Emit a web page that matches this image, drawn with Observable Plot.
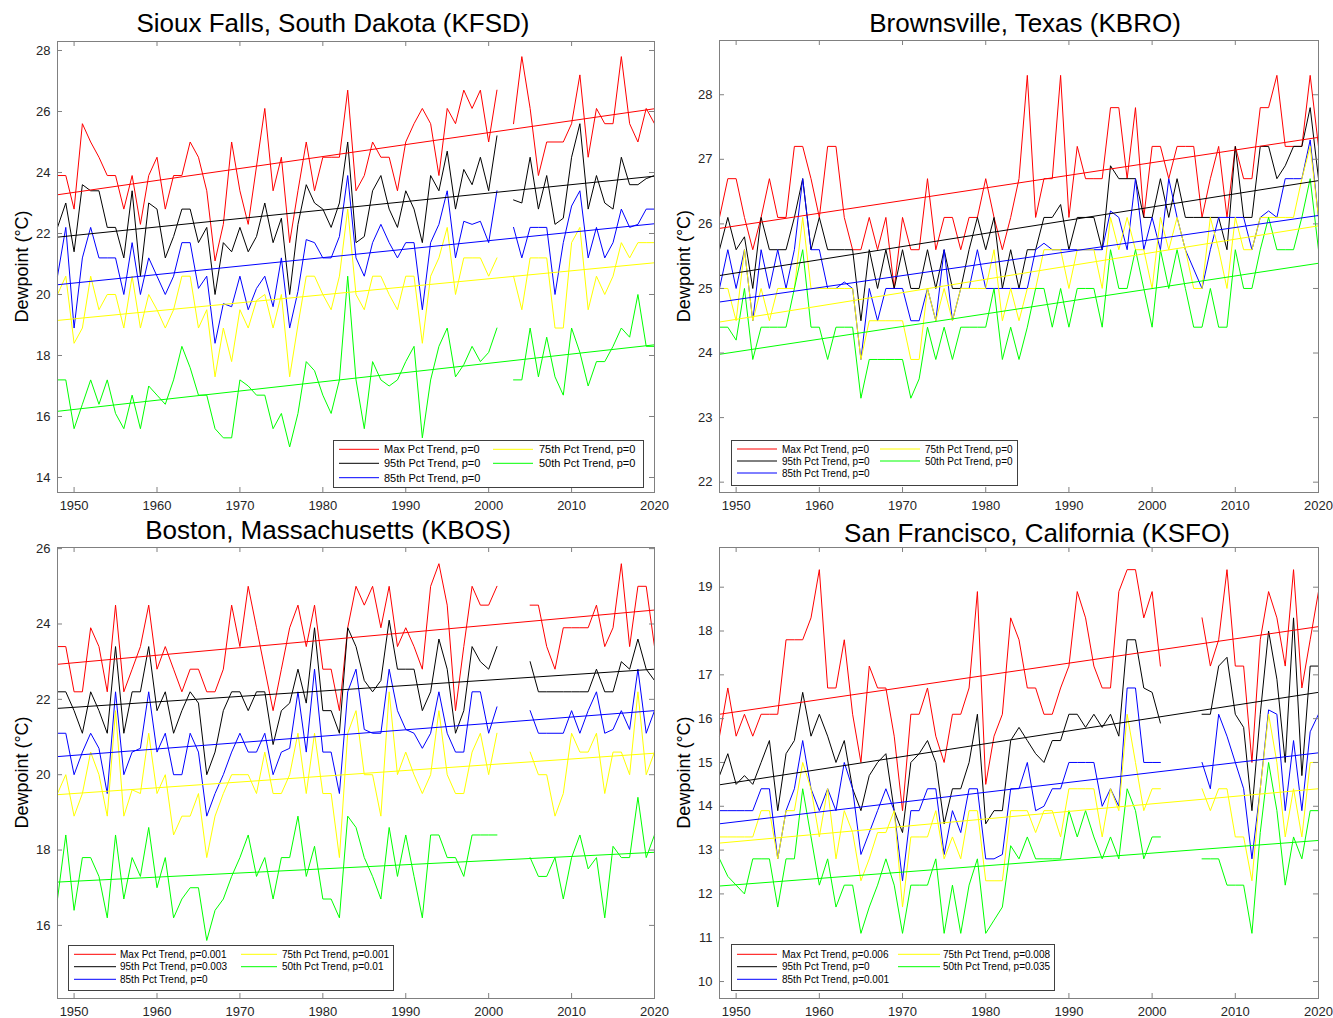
<!DOCTYPE html>
<html>
<head>
<meta charset="utf-8">
<script src="https://cdn.jsdelivr.net/npm/d3@7"></script>
<script src="https://cdn.jsdelivr.net/npm/@observablehq/plot@0.6"></script>
<style>
  html, body { margin: 0; padding: 0; background: #fff; }
  #root { position: relative; width: 1333px; height: 1018px; background: #fff; overflow: hidden;
          font-family: "Liberation Sans", Arial, Helvetica, sans-serif; }
  #root svg { position: absolute; }
</style>
</head>
<body>
<div id="root"></div>
<script>
// ---------- DATA ----------
const years = [1948,1949,1950,1951,1952,1953,1954,1955,1956,1957,1958,1959,1960,1961,1962,1963,1964,1965,1966,1967,
  1968,1969,1970,1971,1972,1973,1974,1975,1976,1977,1978,1979,1980,1981,1982,1983,1984,1985,1986,1987,
  1988,1989,1990,1991,1992,1993,1994,1995,1996,1997,1998,1999,2000,2001,2002,2003,2004,2005,2006,2007,
  2008,2009,2010,2011,2012,2013,2014,2015,2016,2017,2018,2019,2020];
const xTicks = [1950, 1960, 1970, 1980, 1990, 2000, 2010, 2020];
const seriesColors = ["#ff0000", "#000000", "#0000ff", "#ffff00", "#00ff00"];

// Sioux Falls (KFSD)
const kfsdMax = [23.9,23.9,22.8,25.6,25.0,24.5,23.9,23.9,22.8,23.9, 22.3,23.9,24.5,22.8,23.9,23.9,25.0,24.5,23.4,21.1,
  22.3,25.0,23.4,22.3,24.2,26.1,23.4,24.5,21.7,23.4, 25.0,23.4,24.5,24.5,24.5,26.7,23.4,23.9,25.0,24.5,
  24.5,23.4,25.0,25.6,26.1,25.6,23.9,26.1,25.6,26.7, 26.1,26.7,25.0,26.7,null,25.6,27.8,26.1,23.9,25.0,
  25.0,25.0,25.6,27.2,24.5,26.1,25.6,25.6,27.8,25.6, 25.0,26.1,25.6];
const kfsdP95 = [22.2,23.0,21.4,23.6,23.4,23.4,22.2,22.2,21.2,23.4, 20.6,23.0,22.8,21.2,21.9,22.8,22.8,21.7,22.2,20.0,
  21.7,21.4,22.2,21.4,21.9,23.0,21.7,22.5,20.0,22.3, 23.6,23.0,22.8,22.2,23.0,25.0,21.7,21.9,23.4,23.9,
  22.8,22.2,23.4,22.8,21.7,23.9,23.4,24.7,22.8,24.1, 23.6,24.5,23.4,25.2,null,23.1,23.0,24.5,22.8,23.9,
  22.3,22.5,24.5,25.6,22.8,23.9,23.0,22.8,24.5,23.6, 23.6,23.8,23.9];
const kfsdP85 = [20.6,22.2,18.9,21.2,22.2,21.2,21.2,21.2,20.0,21.7, 20.0,21.2,20.6,20.0,20.6,21.7,21.7,20.2,20.6,18.4,
  19.7,19.6,20.6,19.5,20.2,20.6,19.6,21.2,18.9,20.1, 21.8,21.7,21.2,21.2,21.9,23.9,21.2,20.6,21.7,22.3,
  21.7,21.2,21.7,21.7,19.5,21.7,22.3,23.4,21.2,22.4, 22.3,22.4,21.7,23.4,null,22.2,21.2,22.2,22.2,22.2,
  20.0,21.7,22.9,23.4,21.2,22.2,21.2,21.7,22.8,22.2, 22.3,22.8,22.8];
const kfsdP75 = [20.0,20.6,18.4,18.9,20.6,19.5,20.0,20.0,18.9,20.6, 18.9,20.0,19.5,18.9,19.5,20.6,20.6,18.9,19.5,17.3,
  18.9,17.8,19.5,18.9,19.8,20.0,18.9,20.0,17.3,19.0, 20.6,20.6,20.0,19.5,20.6,22.8,20.0,19.5,20.6,20.6,
  20.0,19.5,20.6,20.6,18.4,20.6,21.2,22.2,20.0,21.2, 21.2,21.2,20.6,21.2,null,20.6,19.5,21.2,21.2,21.2,
  18.9,18.9,21.7,22.2,19.5,20.6,20.0,20.6,21.7,21.2, 21.7,21.7,21.7];
const kfsdP50 = [17.2,17.2,15.6,16.4,17.2,16.4,17.2,16.1,15.6,16.7, 15.6,17.0,16.7,16.4,17.2,18.3,17.6,16.7,16.7,15.6,
  15.3,15.3,17.2,17.0,16.7,16.7,15.6,16.1,15.0,16.1, 17.8,17.5,16.7,16.1,17.2,20.6,17.2,15.6,17.8,17.2,
  17.0,17.2,17.8,18.3,15.3,17.2,18.3,18.9,17.3,17.7, 18.3,17.8,18.1,18.9,null,17.2,17.2,18.9,17.3,18.6,
  17.3,16.7,18.9,18.1,17.0,17.8,17.8,18.3,18.9,18.6, 20.0,18.3,18.3];
const kfsdTrendStart = [23.27, 21.88, 20.32, 19.15, 16.17];
const kfsdTrendEnd = [26.09, 23.88, 22.32, 21.04, 18.35];
const kfsdLegend = ["Max Pct Trend, p=0", "95th Pct Trend, p=0", "85th Pct Trend, p=0", "75th Pct Trend, p=0", "50th Pct Trend, p=0"];

// Brownsville (KBRO)
const kbroMax = [26.1,26.7,26.7,26.1,25.6,26.1,26.7,26.1,26.1,27.2, 27.2,26.7,26.1,27.2,27.2,26.1,25.6,25.6,26.1,25.6,
  26.1,25.0,26.1,25.6,25.6,26.7,25.6,26.1,26.1,25.6, 26.1,26.1,26.7,26.1,25.6,26.1,26.7,28.3,26.1,26.7,
  26.7,28.3,26.1,27.2,26.7,26.7,26.7,27.8,27.8,26.7, 27.8,26.1,27.2,27.2,26.7,27.2,27.2,27.2,26.1,26.7,
  27.2,26.1,27.2,26.7,26.7,27.8,27.8,28.3,27.2,27.2, 27.2,28.3,27.2];
const kbroP95 = [25.6,26.1,25.6,25.8,25.0,26.1,25.6,25.6,25.6,26.1, 26.7,25.6,26.1,25.6,25.6,25.6,25.6,24.5,25.6,25.0,
  25.6,25.0,25.6,25.0,25.0,25.6,25.0,25.6,25.0,25.0, 25.6,26.1,25.6,26.1,25.0,25.6,25.0,25.6,25.6,26.1,
  26.1,26.3,25.6,26.1,26.1,26.1,25.6,26.9,26.7,26.7, 26.7,26.1,26.1,26.7,26.1,26.7,26.1,26.1,26.1,26.1,
  26.1,25.6,27.2,26.1,26.1,27.2,27.2,26.7,26.9,27.2, 27.2,27.8,26.7];
const kbroP85 = [25.0,25.6,25.0,25.6,24.5,25.6,25.0,25.6,25.0,25.6, 26.7,25.6,25.6,25.0,25.0,25.1,25.0,23.9,25.0,24.5,
  25.0,25.0,25.0,24.5,24.5,25.0,24.5,25.6,24.5,25.0, 25.0,25.6,25.0,25.0,25.0,25.0,25.0,25.0,25.6,25.7,
  25.6,25.6,25.6,25.6,25.6,25.6,25.6,26.2,26.1,25.6, 26.7,25.6,26.1,25.6,26.7,26.1,25.6,25.3,25.0,25.6,
  26.1,26.1,26.1,26.1,25.6,26.1,26.2,26.1,26.7,26.7, 26.7,27.3,26.1];
const kbroP75 = [25.0,25.0,24.5,25.6,24.5,25.0,24.5,25.0,25.0,25.0, 26.1,25.0,25.0,25.0,25.0,25.0,25.0,23.9,24.5,24.5,
  24.5,24.5,24.5,23.9,23.9,25.0,24.5,25.0,24.5,25.0, 25.0,25.0,25.0,25.6,24.5,25.0,24.5,25.0,25.0,25.6,
  25.6,25.6,25.0,25.6,25.6,25.6,25.0,26.1,25.6,26.1, 25.6,25.6,25.0,26.1,25.6,26.1,25.6,25.0,25.0,26.1,
  25.6,25.0,26.1,25.6,25.6,26.1,26.1,26.1,26.1,26.1, 26.7,27.2,26.1];
const kbroP50 = [24.4,24.4,24.2,25.0,23.9,24.4,24.4,24.4,24.4,25.0, 25.6,24.4,24.4,23.9,24.4,24.4,24.4,23.3,23.9,23.9,
  23.9,23.9,23.9,23.3,23.6,24.4,23.9,24.4,23.9,24.4, 24.4,24.4,24.4,25.0,23.9,24.4,23.9,24.4,25.0,25.0,
  24.4,25.0,24.4,25.0,25.0,25.0,24.4,25.6,25.0,25.0, 25.6,25.0,24.4,25.6,25.0,25.6,25.0,24.4,24.4,25.0,
  24.4,24.4,25.6,25.0,25.0,25.6,26.1,25.6,25.6,25.6, 26.1,26.7,25.6];
const kbroTrendStart = [25.93, 25.20, 24.79, 24.48, 23.98];
const kbroTrendEnd = [27.34, 26.67, 26.13, 25.97, 25.39];
const kbroLegend = ["Max Pct Trend, p=0", "95th Pct Trend, p=0", "85th Pct Trend, p=0", "75th Pct Trend, p=0", "50th Pct Trend, p=0"];

// Boston (KBOS)
const kbosMax = [23.4,23.4,22.2,22.2,23.9,23.4,22.2,24.5,22.2,22.8, 23.4,24.5,22.8,23.4,22.8,22.2,22.8,22.8,22.2,22.2,
  22.8,24.5,23.4,25.0,23.9,22.8,21.7,22.8,23.9,24.5, 23.4,24.5,22.8,22.8,21.7,23.9,25.0,24.5,25.0,23.9,
  25.0,23.4,23.9,23.4,22.8,25.0,25.6,24.5,21.7,23.4, 25.0,24.5,24.5,25.0,null,null,null,24.5,24.5,23.4,
  22.8,23.9,23.9,23.9,23.9,24.5,23.4,23.9,25.6,23.4, 25.0,25.0,23.4];
const kbosP95 = [22.2,22.2,21.7,21.1,22.2,21.7,21.1,23.4,21.1,22.2, 22.2,23.4,21.7,22.2,21.1,21.7,22.2,21.9,20.0,20.6,
  21.7,22.2,22.2,21.7,22.2,22.2,20.8,21.7,21.9,22.8, 21.9,23.9,21.7,21.7,21.1,23.9,23.4,22.5,22.2,22.5,
  24.1,22.8,22.8,22.8,21.7,22.2,23.6,22.8,21.1,21.7, 23.4,23.0,22.8,23.4,null,null,null,23.0,22.2,22.2,
  22.2,22.2,22.2,22.2,22.2,22.8,22.2,22.2,23.0,22.8, 23.6,22.8,22.5];
const kbosP85 = [21.1,21.1,20.0,20.6,21.1,20.7,19.5,22.2,20.0,20.6, 20.7,22.2,20.6,21.1,20.0,20.0,21.1,20.6,18.9,19.5,
  20.0,20.6,21.1,20.6,20.6,21.1,20.0,20.6,20.7,22.2, 20.6,22.8,20.6,20.6,19.5,22.2,22.8,21.2,21.1,21.1,
  22.8,21.7,21.2,21.1,20.7,21.1,22.2,21.1,20.6,20.6, 22.2,22.2,21.1,21.8,null,null,null,21.7,21.1,21.1,
  21.1,21.1,21.7,21.1,21.7,22.2,21.1,21.2,21.7,21.2, 22.8,21.1,21.7];
const kbosP75 = [19.5,20.0,18.9,19.5,20.6,20.0,18.9,21.7,18.9,19.6, 19.5,21.1,19.5,20.0,18.4,18.9,18.9,19.5,17.8,18.9,
  19.5,20.0,20.0,20.0,19.5,20.6,19.5,19.5,20.0,21.1, 19.5,21.1,19.5,19.5,17.8,21.1,21.7,20.0,20.0,18.9,
  22.2,20.0,20.6,20.0,19.5,20.0,21.7,20.0,19.5,19.5, 20.6,21.1,20.0,21.1,null,null,null,20.6,20.0,20.0,
  18.9,19.5,21.1,20.6,20.6,21.1,19.5,20.6,20.6,20.0, 22.2,20.0,20.6];
const kbosP50 = [16.7,18.4,16.4,17.8,17.8,17.3,16.2,18.4,16.7,17.8, 17.3,18.6,17.0,17.8,16.2,16.7,17.0,17.0,15.6,16.4,
  16.7,17.3,17.8,18.4,17.3,17.8,16.7,17.8,17.8,18.9, 17.3,18.1,16.7,16.7,16.2,18.9,18.6,17.8,17.3,16.7,
  18.6,17.3,18.4,17.3,16.2,18.4,18.4,17.8,17.8,17.3, 18.4,18.4,18.4,18.4,null,null,null,17.8,17.3,17.3,
  17.8,16.7,17.8,18.4,17.5,17.8,16.2,18.1,17.8,17.8, 19.4,17.8,18.4];
const kbosTrendStart = [22.93, 21.76, 20.48, 19.47, 17.15];
const kbosTrendEnd = [24.37, 22.80, 21.70, 20.57, 17.94];
const kbosLegend = ["Max Pct Trend, p=0.001", "95th Pct Trend, p=0.003", "85th Pct Trend, p=0", "75th Pct Trend, p=0.001", "50th Pct Trend, p=0.01"];

// San Francisco (KSFO)
const ksfoMax = [15.6,16.7,15.6,16.1,15.6,16.1,16.1,16.1,17.8,17.8, 17.8,18.3,19.4,16.7,16.7,17.8,16.1,15.0,17.2,16.7,
  16.7,15.6,13.9,16.1,16.1,16.7,15.6,15.0,16.1,16.1, 16.7,18.9,14.5,15.6,16.1,18.3,17.8,16.7,16.7,16.1,
  16.1,16.7,17.2,18.9,18.3,17.2,16.7,16.7,18.9,19.4, 19.4,18.3,18.9,17.2,null,null,null,null,18.3,17.2,
  17.8,19.4,17.2,17.2,15.0,17.8,18.9,18.3,17.2,19.4, 16.7,17.8,18.9];
const ksfoP95 = [14.7,15.2,14.5,14.7,14.5,15.0,15.5,13.9,15.2,15.5, 16.6,15.6,16.1,15.6,15.0,15.5,14.4,13.9,14.7,15.0,
  15.2,13.9,13.4,15.0,15.2,15.5,15.0,13.6,14.4,14.4, 15.0,16.1,13.6,13.9,13.9,15.5,15.8,15.5,15.2,15.0,
  15.5,15.5,16.1,16.1,15.8,16.1,15.8,16.1,15.6,17.8, 17.8,16.7,16.6,15.9,null,null,null,null,16.1,16.1,
  17.2,17.4,16.1,15.8,13.9,16.1,18.0,16.9,15.0,18.3, 14.7,17.2,17.2];
const ksfoP85 = [13.9,13.9,13.9,13.9,13.9,14.4,14.4,12.8,13.9,14.4, 15.5,14.4,13.9,14.4,13.9,15.0,14.4,12.9,13.4,13.9,
  14.4,13.9,12.3,13.9,13.9,14.4,14.4,12.9,13.9,13.4, 14.4,14.4,12.8,12.8,12.9,14.4,14.4,15.0,13.9,14.0,
  14.4,14.4,15.0,15.0,15.0,15.0,14.0,14.4,14.0,16.7, 16.7,15.0,15.0,15.0,null,null,null,null,15.0,14.4,
  16.1,15.6,15.0,14.4,12.8,14.4,16.2,16.1,13.9,15.5, 13.9,15.7,16.1];
const ksfoP75 = [13.3,13.3,13.3,13.3,13.3,13.9,13.9,12.8,13.9,13.9, 15.0,14.4,13.3,14.4,12.8,13.9,13.4,12.3,12.8,13.4,
  13.4,13.9,11.7,13.3,13.3,13.3,13.9,12.8,13.3,12.8, 13.9,13.9,12.3,12.3,12.3,13.9,13.9,13.9,13.4,13.9,
  13.9,13.3,14.4,14.4,14.4,14.4,13.3,14.4,13.9,16.1, 15.0,13.9,14.4,14.4,null,null,null,null,14.4,13.9,
  14.4,14.4,13.3,13.3,12.3,14.4,16.1,15.0,13.3,14.4, 13.3,15.0,15.0];
const ksfoP50 = [12.8,12.4,12.2,12.0,12.8,12.8,12.8,11.7,12.8,12.8, 14.4,13.3,12.2,12.8,11.7,12.2,12.2,11.1,11.7,12.2,
  12.8,12.2,11.1,12.2,12.2,12.2,12.8,11.1,12.2,11.1, 12.2,12.8,11.1,11.4,11.7,13.1,12.8,13.3,12.8,12.8,
  12.8,12.8,13.9,13.3,13.9,13.3,12.8,13.3,12.8,14.4, 13.9,12.8,13.3,13.3,null,null,null,null,12.8,12.8,
  12.8,12.2,12.2,12.2,11.1,13.4,15.0,13.9,12.2,13.3, 12.8,13.9,13.9];
const ksfoTrendStart = [16.10, 14.49, 13.60, 13.16, 12.18];
const ksfoTrendEnd = [18.10, 16.60, 15.22, 14.40, 13.22];
const ksfoLegend = ["Max Pct Trend, p=0.006", "95th Pct Trend, p=0", "85th Pct Trend, p=0.001", "75th Pct Trend, p=0.008", "50th Pct Trend, p=0.035"];

// ---------- PANELS ----------
const panels = [
  { title: "Sioux Falls, South Dakota (KFSD)", titleX: 333, titleY: 32,
    l: 57, t: 41, r: 654, b: 492, ydomain: [13.508, 28.295], yTicks: [14,16,18,20,22,24,26,28],
    series: [kfsdMax, kfsdP95, kfsdP85, kfsdP75, kfsdP50], ts: kfsdTrendStart, te: kfsdTrendEnd, legend: kfsdLegend,
    lg: { x: 333.5, y: 440.5, w: 310, h: 47, rows: [449.3, 463.3, 477.7], c1: [339, 379, 384], c2: [493, 533, 539], fs: 11 } },
  { title: "Brownsville, Texas (KBRO)", titleX: 1025, titleY: 32,
    l: 719, t: 40, r: 1318, b: 492, ydomain: [21.84, 28.84], yTicks: [22,23,24,25,26,27,28],
    series: [kbroMax, kbroP95, kbroP85, kbroP75, kbroP50], ts: kbroTrendStart, te: kbroTrendEnd, legend: kbroLegend,
    lg: { x: 731.5, y: 440.5, w: 286, h: 45, rows: [449, 461, 473], c1: [737, 777, 782], c2: [880, 920, 925], fs: 10 } },
  { title: "Boston, Massachusetts (KBOS)", titleX: 328, titleY: 539,
    l: 57, t: 547, r: 654, b: 998, ydomain: [14.06, 26.03], yTicks: [16,18,20,22,24,26],
    series: [kbosMax, kbosP95, kbosP85, kbosP75, kbosP50], ts: kbosTrendStart, te: kbosTrendEnd, legend: kbosLegend,
    lg: { x: 68.5, y: 945.5, w: 325, h: 45, rows: [954.3, 966.7, 979.3], c1: [74, 116, 120], c2: [241, 277, 282], fs: 10 } },
  { title: "San Francisco, California (KSFO)", titleX: 1037, titleY: 542,
    l: 719, t: 547, r: 1318, b: 998, ydomain: [9.613, 19.906], yTicks: [10,11,12,13,14,15,16,17,18,19],
    series: [ksfoMax, ksfoP95, ksfoP85, ksfoP75, ksfoP50], ts: ksfoTrendStart, te: ksfoTrendEnd, legend: ksfoLegend,
    lg: { x: 731.5, y: 944.5, w: 323, h: 46, rows: [954.3, 966.7, 979.3], c1: [737, 777, 782], c2: [898, 940, 943], fs: 10 } }
];

const FONT = '"Liberation Sans", Arial, Helvetica, sans-serif';
const axisColor = "#808080";
const root = document.getElementById("root");

panels.forEach(p => {
  p.series.forEach(s => { if (s.length !== years.length) throw new Error(p.title + " series length " + s.length); });
  const W = p.r - p.l, H = p.b - p.t;
  const mL = 50, mR = 20, mT = 10, mB = 30;
  const marks = [];
  p.series.forEach((vals, i) => {
    const rows = years.map((yr, j) => ({ year: yr, v: vals[j] }));
    marks.push(Plot.line(rows, { x: "year", y: "v", stroke: seriesColors[i], strokeWidth: 1 }));
  });
  p.ts.forEach((s, i) => {
    const rows = [{ year: years[0], v: s }, { year: years[years.length - 1], v: p.te[i] }];
    marks.push(Plot.line(rows, { x: "year", y: "v", stroke: seriesColors[i], strokeWidth: 1 }));
  });
  marks.push(Plot.ruleX(xTicks, { stroke: axisColor, strokeWidth: 1, insetTop: H - 5 }));
  marks.push(Plot.ruleX(xTicks, { stroke: axisColor, strokeWidth: 1, insetBottom: H - 5 }));
  marks.push(Plot.ruleY(p.yTicks, { stroke: axisColor, strokeWidth: 1, insetRight: W - 5 }));
  marks.push(Plot.ruleY(p.yTicks, { stroke: axisColor, strokeWidth: 1, insetLeft: W - 5 }));
  marks.push(Plot.axisX(xTicks, { tickSize: 0, tickPadding: 8, tickFormat: d => String(d), fontSize: 13, label: null, fill: "#262626" }));
  marks.push(Plot.axisY(p.yTicks, { tickSize: 0, tickPadding: 7, tickFormat: d => String(d), fontSize: 13, label: null, fill: "#262626" }));
  marks.push(Plot.frame({ stroke: axisColor, strokeWidth: 1 }));
  const svg = Plot.plot({
    width: W + mL + mR, height: H + mT + mB,
    marginLeft: mL, marginRight: mR, marginTop: mT, marginBottom: mB,
    x: { domain: [1948, 2020], label: null },
    y: { domain: p.ydomain, label: null },
    style: { fontFamily: FONT, fontSize: "13px", color: "#262626", background: "transparent", overflow: "visible" },
    marks
  });
  svg.style.left = (p.l - mL) + "px";
  svg.style.top = (p.t - mT) + "px";
  root.appendChild(svg);
});

// ---------- TEXT OVERLAY: titles, y labels, legends ----------
const ns = "http://www.w3.org/2000/svg";
const ov = document.createElementNS(ns, "svg");
ov.setAttribute("width", 1333); ov.setAttribute("height", 1018);
ov.style.left = "0px"; ov.style.top = "0px";
ov.style.fontFamily = FONT;
root.appendChild(ov);
function el(tag, attrs, text) {
  const e = document.createElementNS(ns, tag);
  for (const k in attrs) e.setAttribute(k, attrs[k]);
  if (text != null) e.textContent = text;
  ov.appendChild(e);
  return e;
}
panels.forEach(p => {
  el("text", { x: p.titleX, y: p.titleY, "text-anchor": "middle", "font-size": 26, fill: "#000" }, p.title);
  const cy = (p.t + p.b) / 2;
  const lx = p.l - 29;
  el("text", { x: lx, y: cy, "text-anchor": "middle", "font-size": 18, fill: "#000",
               transform: `rotate(-90 ${lx} ${cy})` }, "Dewpoint (°C)");
  const g = p.lg;
  el("rect", { x: g.x, y: g.y, width: g.w, height: g.h, fill: "#fff", stroke: "#404040", "stroke-width": 1 });
  const slots = [[g.c1, g.rows[0]], [g.c1, g.rows[1]], [g.c1, g.rows[2]], [g.c2, g.rows[0]], [g.c2, g.rows[1]]];
  slots.forEach(([c, ry], i) => {
    el("line", { x1: c[0], x2: c[1], y1: ry, y2: ry, stroke: seriesColors[i], "stroke-width": 1 });
    el("text", { x: c[2], y: ry + g.fs * 0.36, "font-size": g.fs, fill: "#000" }, p.legend[i]);
  });
});
</script>
</body>
</html>
